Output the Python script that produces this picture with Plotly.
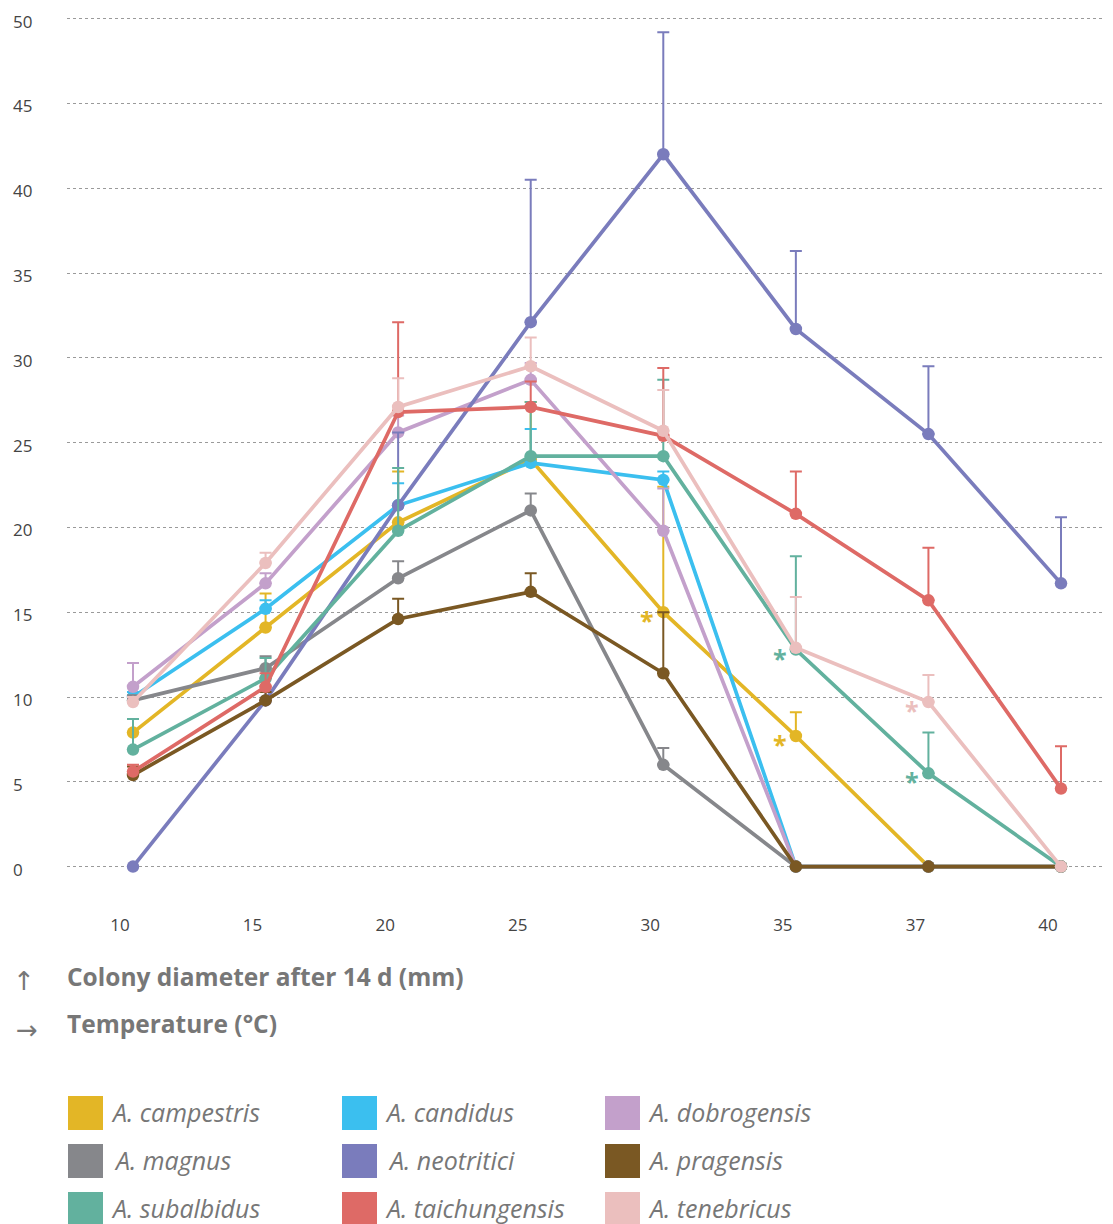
import plotly.graph_objects as go

temps = ["10", "15", "20", "25", "30", "35", "37", "40"]
y_ticks = [0, 5, 10, 15, 20, 25, 30, 35, 40, 45, 50]

species = ["A. campestris", "A. candidus", "A. dobrogensis",
           "A. magnus", "A. neotritici", "A. pragensis",
           "A. subalbidus", "A. taichungensis", "A. tenebricus"]
colors = ["#E3B626", "#3BBFEF", "#C3A0CB",
          "#86878B", "#7A7CBC", "#7A5823",
          "#62B19E", "#DE6A66", "#EBBFBE"]

campestris = [7.9, 14.1, 20.3, 24.0, 15.0, 7.7, 0, 0]
candidus = [10.0, 15.2, 21.3, 23.8, 22.8, 0, 0, 0]
dobrogensis = [10.6, 16.7, 25.6, 28.7, 19.8, 0, 0, 0]
magnus = [9.8, 11.7, 17.0, 21.0, 6.0, 0, 0, 0]
neotritici = [0, 9.8, 21.3, 32.1, 42.0, 31.7, 25.5, 16.7]
pragensis = [5.4, 9.8, 14.6, 16.2, 11.4, 0, 0, 0]
subalbidus = [6.9, 11.1, 19.8, 24.2, 24.2, 12.8, 5.5, 0]
taichungensis = [5.6, 10.6, 26.8, 27.1, 25.4, 20.8, 15.7, 4.6]
tenebricus = [9.7, 17.9, 27.1, 29.5, 25.7, 12.9, 9.7, 0]

campestris_err = [0.8, 2.0, 3.0, 3.4, 7.4, 1.4, 0, 0]
candidus_err = [0.3, 0.5, 1.3, 2.0, 0.5, 0, 0, 0]
dobrogensis_err = [1.4, 0.6, 1.0, 1.0, 2.5, 0, 0, 0]
magnus_err = [0.3, 0.7, 1.0, 1.0, 1.0, 0, 0, 0]
neotritici_err = [0, 0.5, 4.3, 8.4, 7.2, 4.6, 4.0, 3.9]
pragensis_err = [0.5, 0.5, 1.2, 1.1, 3.6, 0, 0, 0]
subalbidus_err = [1.8, 1.2, 3.7, 3.2, 4.5, 5.5, 2.4, 0]
taichungensis_err = [0.4, 0.8, 5.3, 1.5, 4.0, 2.5, 3.1, 2.5]
tenebricus_err = [0.3, 0.6, 1.7, 1.7, 2.4, 3.0, 1.6, 0]

values = [campestris, candidus, dobrogensis, magnus, neotritici,
          pragensis, subalbidus, taichungensis, tenebricus]
errors = [campestris_err, candidus_err, dobrogensis_err, magnus_err,
          neotritici_err, pragensis_err, subalbidus_err,
          taichungensis_err, tenebricus_err]

# significance marks: (series index, temperature)
stars = [(0, "30"), (0, "35"), (6, "35"), (6, "37"), (8, "37")]

y_axis_title = "Colony diameter after 14 d (mm)"
x_axis_title = "Temperature (°C)"

FONT = "Open Sans"
OFF = 8                      # page body margin
W, H = 1105, 1216
ML, MR, MT, MB = 1, 3, 0, 315
PLOT_LEFT = 67               # screen px
K = 16.96                    # px per mm on screen
YMIN = -2.5
YMAX = YMIN + (H - MT - MB) / K

pw = W - ML - MR
ph = H - MT - MB


def px(xs):
    return (xs - OFF - ML) / pw


def py(ys):
    return (H - MB - (ys - OFF)) / ph


spacing = (1061 - 133) / 7
xr0 = (PLOT_LEFT - 133) / spacing
xr1 = (W - MR + OFF - 133) / spacing

fig = go.Figure()
# carrier for the left tick-label axis
fig.add_trace(go.Scatter(x=[temps[0]], y=[y_ticks[0]], yaxis="y2",
                         mode="markers", marker=dict(opacity=0),
                         hoverinfo="skip", showlegend=False))

for name, col, vals, err in zip(species, colors, values, errors):
    fig.add_trace(go.Scatter(
        x=temps, y=vals, name=name, mode="lines+markers",
        line=dict(color=col, width=3.7),
        marker=dict(color=col, size=12.5),
        error_y=dict(type="data", array=err, arrayminus=[0] * len(err),
                     symmetric=False, color=col, thickness=2, width=6),
        showlegend=False,
    ))

for si, t in stars:
    i = temps.index(t)
    fig.add_annotation(x=i, y=values[si][i], xref="x", yref="y",
                       text="<b>*</b>", showarrow=False,
                       font=dict(family=FONT, size=25, color=colors[si]),
                       xshift=-16, yshift=-8)

fig.update_layout(
    width=W, height=H,
    margin=dict(l=ML, r=MR, t=MT, b=MB),
    plot_bgcolor="white", paper_bgcolor="white",
    font=dict(family=FONT, color="#444"),
    xaxis=dict(type="category", domain=[px(PLOT_LEFT), 1],
               range=[xr0, xr1], tickvals=temps, ticktext=temps,
               showgrid=False, zeroline=False, showline=False,
               ticks="", ticklabelshift=-13, ticklabelstandoff=4,
               tickfont=dict(size=17, color="#444")),
    yaxis=dict(range=[YMIN, YMAX], tickvals=y_ticks,
               showticklabels=False, showgrid=True,
               gridcolor="#9a9a9a", griddash="3px,3px", gridwidth=1,
               zeroline=False, showline=False, ticks=""),
    yaxis2=dict(range=[YMIN, YMAX], tickvals=y_ticks, overlaying="y",
                anchor="free", position=0, side="left",
                ticklabelposition="inside", showgrid=False,
                zeroline=False, showline=False, ticks="",
                ticklabelshift=3,
                tickfont=dict(size=17, color="#444")),
)

# axis titles
fig.add_annotation(x=px(24), y=py(981), xref="paper", yref="paper",
                   text="↑", showarrow=False, xanchor="center", yanchor="middle",
                   font=dict(family="DejaVu Sans", size=26, color="#777"))
fig.add_annotation(x=px(65), y=py(976), xref="paper", yref="paper",
                   text="<b>" + y_axis_title + "</b>", showarrow=False,
                   xanchor="left", yanchor="middle",
                   font=dict(family=FONT, size=24.5, color="#777"))
fig.add_annotation(x=px(27), y=py(1030), xref="paper", yref="paper",
                   text="→", showarrow=False, xanchor="center", yanchor="middle",
                   font=dict(family="DejaVu Sans", size=26, color="#777"))
fig.add_annotation(x=px(65), y=py(1024), xref="paper", yref="paper",
                   text="<b>" + x_axis_title + "</b>", showarrow=False,
                   xanchor="left", yanchor="middle",
                   font=dict(family=FONT, size=24.5, color="#777"))

# legend built from shapes and text
col_x = [68, 342, 605]
row_y = [1096, 1144, 1192]
for k, (name, col) in enumerate(zip(species, colors)):
    r, c = divmod(k, 3)
    x0 = col_x[c]
    y0 = row_y[r]
    fig.add_shape(type="rect", xref="paper", yref="paper",
                  x0=px(x0), x1=px(x0 + 35), y0=py(y0), y1=py(y0 + 34),
                  fillcolor=col, line=dict(width=0))
    fig.add_annotation(x=px(x0 + 41 + (3 if r == 1 and c < 2 else 0)),
                       y=py(y0 + 16), xref="paper", yref="paper",
                       text="<i>" + name + "</i>", showarrow=False,
                       xanchor="left", yanchor="middle",
                       font=dict(family=FONT, size=25, color="#777"))

fig.write_html("out.html")
